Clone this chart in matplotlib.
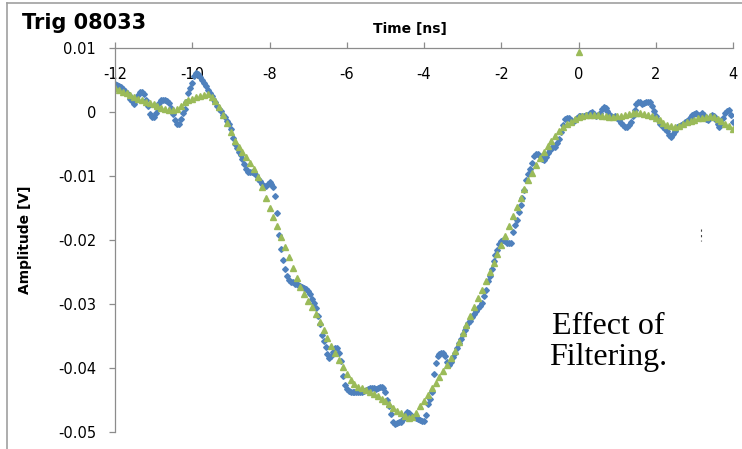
import numpy as np
import matplotlib
matplotlib.use("Agg")
import matplotlib.pyplot as plt
from matplotlib.lines import Line2D

plt.rcParams["axes.unicode_minus"] = False

# raw trace, one value every 0.05 ns from -12 to 4 ns (V)
raw_step = 0.05
raw_v = [
    0.0043, 0.0042, 0.0041, 0.0039, 0.0036, 0.0033, 0.0030, 0.0026, 0.0021, 0.0017,
    0.0013, 0.0018, 0.0027, 0.0032, 0.0032, 0.0028, 0.0019, 0.0009, -0.0003, -0.0008,
    -0.0008, -0.0002, 0.0006, 0.0014, 0.0018, 0.0019, 0.0019, 0.0017, 0.0014, 0.0006,
    -0.0003, -0.0013, -0.0019, -0.0019, -0.0011, -0.0002, 0.0005, 0.0016, 0.0030, 0.0038,
    0.0046, 0.0056, 0.0061, 0.0059, 0.0055, 0.0050, 0.0045, 0.0040, 0.0034, 0.0029,
    0.0025, 0.0020, 0.0015, 0.0010, 0.0005, 0.0001, -0.0004, -0.0008, -0.0014, -0.0019,
    -0.0027, -0.0040, -0.0050, -0.0057, -0.0062, -0.0067, -0.0073, -0.0082, -0.0089, -0.0093,
    -0.0093, -0.0094, -0.0096, -0.0099, -0.0104, -0.0108, -0.0112, -0.0115, -0.0116, -0.0113,
    -0.0110, -0.0112, -0.0117, -0.0131, -0.0158, -0.0192, -0.0214, -0.0232, -0.0245, -0.0256,
    -0.0263, -0.0265, -0.0266, -0.0268, -0.0269, -0.0271, -0.0272, -0.0273, -0.0275, -0.0276,
    -0.0279, -0.0285, -0.0292, -0.0299, -0.0306, -0.0318, -0.0331, -0.0348, -0.0358, -0.0367,
    -0.0378, -0.0384, -0.0382, -0.0375, -0.0368, -0.0368, -0.0376, -0.0389, -0.0412, -0.0426,
    -0.0433, -0.0436, -0.0437, -0.0437, -0.0438, -0.0437, -0.0437, -0.0437, -0.0437, -0.0436,
    -0.0435, -0.0433, -0.0432, -0.0431, -0.0432, -0.0433, -0.0432, -0.0430, -0.0429, -0.0432,
    -0.0438, -0.0450, -0.0460, -0.0472, -0.0484, -0.0487, -0.0486, -0.0485, -0.0484, -0.0480,
    -0.0474, -0.0469, -0.0470, -0.0473, -0.0475, -0.0477, -0.0478, -0.0480, -0.0481, -0.0483,
    -0.0483, -0.0473, -0.0457, -0.0449, -0.0437, -0.0410, -0.0392, -0.0381, -0.0378, -0.0377,
    -0.0377, -0.0382, -0.0390, -0.0395, -0.0390, -0.0383, -0.0376, -0.0368, -0.0361, -0.0354,
    -0.0347, -0.0341, -0.0336, -0.0330, -0.0326, -0.0320, -0.0316, -0.0311, -0.0307, -0.0303,
    -0.0298, -0.0287, -0.0278, -0.0264, -0.0256, -0.0246, -0.0233, -0.0224, -0.0216, -0.0206,
    -0.0201, -0.0200, -0.0202, -0.0204, -0.0205, -0.0205, -0.0188, -0.0176, -0.0168, -0.0156,
    -0.0145, -0.0135, -0.0122, -0.0106, -0.0097, -0.0089, -0.0079, -0.0069, -0.0065, -0.0065,
    -0.0069, -0.0073, -0.0075, -0.0070, -0.0064, -0.0060, -0.0057, -0.0055, -0.0054, -0.0049,
    -0.0042, -0.0031, -0.0020, -0.0011, -0.0009, -0.0009, -0.0012, -0.0015, -0.0013, -0.0010,
    -0.0007, -0.0007, -0.0006, -0.0006, -0.0005, -0.0004, -0.0002, 0.0000, -0.0003, -0.0006,
    -0.0005, -0.0002, 0.0005, 0.0008, 0.0006, 0.0002, -0.0003, -0.0007, -0.0008, -0.0007,
    -0.0009, -0.0013, -0.0017, -0.0021, -0.0024, -0.0024, -0.0021, -0.0015, -0.0007, 0.0003,
    0.0012, 0.0016, 0.0015, 0.0012, 0.0014, 0.0016, 0.0016, 0.0015, 0.0009, 0.0002,
    -0.0006, -0.0013, -0.0018, -0.0021, -0.0023, -0.0026, -0.0030, -0.0036, -0.0039, -0.0035,
    -0.0029, -0.0024, -0.0022, -0.0021, -0.0019, -0.0016, -0.0014, -0.0011, -0.0008, -0.0005,
    -0.0003, -0.0002, -0.0004, -0.0004, -0.0002, -0.0005, -0.0011, -0.0012, -0.0008, -0.0005,
    -0.0007, -0.0012, -0.0019, -0.0023, -0.0017, -0.0010, -0.0002, 0.0002, 0.0003, -0.0005,
    -0.0015,
]

# filtered trace, one value every 0.1 ns from -12 to 4 ns (V)
filt_step = 0.1
filt_v = [
    0.0038, 0.0035, 0.0032, 0.0029, 0.0026, 0.0023, 0.0021, 0.0018, 0.0016, 0.0014,
    0.0012, 0.0009, 0.0006, 0.0004, 0.0003, 0.0003, 0.0005, 0.0010, 0.0015, 0.0019,
    0.0021, 0.0023, 0.0025, 0.0027, 0.0028, 0.0024, 0.0017, 0.0008, -0.0004, -0.0017,
    -0.0032, -0.0045, -0.0054, -0.0062, -0.0071, -0.0080, -0.0089, -0.0102, -0.0117, -0.0134,
    -0.0150, -0.0164, -0.0178, -0.0195, -0.0211, -0.0227, -0.0243, -0.0259, -0.0273, -0.0285,
    -0.0296, -0.0305, -0.0315, -0.0328, -0.0341, -0.0353, -0.0365, -0.0376, -0.0387, -0.0398,
    -0.0409, -0.0419, -0.0425, -0.0429, -0.0432, -0.0435, -0.0438, -0.0441, -0.0444, -0.0448,
    -0.0452, -0.0457, -0.0462, -0.0467, -0.0471, -0.0475, -0.0478, -0.0477, -0.0470, -0.0460,
    -0.0451, -0.0442, -0.0432, -0.0423, -0.0414, -0.0405, -0.0395, -0.0385, -0.0373, -0.0360,
    -0.0346, -0.0333, -0.0319, -0.0305, -0.0291, -0.0278, -0.0264, -0.0250, -0.0236, -0.0222,
    -0.0208, -0.0193, -0.0178, -0.0163, -0.0148, -0.0134, -0.0120, -0.0107, -0.0095, -0.0083,
    -0.0072, -0.0062, -0.0053, -0.0045, -0.0037, -0.0030, -0.0024, -0.0019, -0.0015, -0.0011,
    -0.0008, -0.0006, -0.0005, -0.0004, -0.0004, -0.0005, -0.0006, -0.0007, -0.0008, -0.0008,
    -0.0007, -0.0006, -0.0005, -0.0003, -0.0002, -0.0002, -0.0002, -0.0003, -0.0004, -0.0006,
    -0.0009, -0.0013, -0.0017, -0.0020, -0.0022, -0.0023, -0.0022, -0.0019, -0.0016, -0.0014,
    -0.0012, -0.0010, -0.0009, -0.0008, -0.0007, -0.0008, -0.0011, -0.0014, -0.0018, -0.0022,
    -0.0027,
]

# trigger marker
trig_t = [0.0]
trig_v = [0.0093]

x_ticks = [-12, -10, -8, -6, -4, -2, 0, 2, 4]
y_ticks = [0.01, 0, -0.01, -0.02, -0.03, -0.04, -0.05]
y_labels = ["0.01", "0", "-0.01", "-0.02", "-0.03", "-0.04", "-0.05"]

raw_t = -12 + raw_step * np.arange(len(raw_v))
filt_t = -12 + filt_step * np.arange(len(filt_v))

W, H = 742, 449
fig = plt.figure(figsize=(W / 100, H / 100), dpi=100)
ax = fig.add_axes([115 / W, 1 - 432 / H, 618 / W, 384 / H])

ax.plot(raw_t, raw_v, ls="none", marker="D", ms=2.9, color="#4F81BD", mec="#4F81BD")
ax.plot(filt_t, filt_v, ls="none", marker="^", ms=4.2, color="#9BBB59", mec="#9BBB59")
ax.plot(trig_t, trig_v, ls="none", marker="^", ms=4.2, color="#9BBB59", clip_on=False)

ax.set_xlim(-12, 4)
ax.set_ylim(-0.05, 0.01)
ax.set_xticks(x_ticks)
ax.set_yticks(y_ticks)
ax.set_yticklabels(y_labels)

gray = "#8C8C8C"
for s in ["right", "bottom"]:
    ax.spines[s].set_visible(False)
for s in ["left", "top"]:
    ax.spines[s].set_color(gray)
    ax.spines[s].set_linewidth(0.9)

ax.tick_params(axis="x", bottom=False, labelbottom=False, top=True, labeltop=True,
               direction="out", length=4.5, width=0.9, color=gray, pad=-29)
ax.tick_params(axis="y", direction="out", length=4.5, width=0.9, color=gray, pad=9)
for lab in ax.get_xticklabels() + ax.get_yticklabels():
    lab.set_fontfamily("DejaVu Sans")
    lab.set_fontsize(10.5)

fig.text(22 / W, 1 - 29 / H, "Trig 08033", fontsize=15, fontweight="bold",
         family="DejaVu Sans", ha="left", va="baseline")
fig.text(410 / W, 1 - 29 / H, "Time [ns]", fontsize=10, fontweight="bold",
         family="DejaVu Sans", ha="center", va="center")
fig.text(25 / W, 1 - 240 / H, "Amplitude [V]", fontsize=10, fontweight="bold",
         family="DejaVu Sans", ha="center", va="center", rotation=90)
fig.text(608 / W, 1 - 342 / H, "Effect of\nFiltering.", fontsize=23,
         family="Liberation Serif", ha="center", va="center", linespacing=1.1)

# picture frame and small stray mark
fig.add_artist(Line2D([7 / W, 7 / W], [0, 1 - 3 / H], color="#A0A0A0", lw=1.2))
fig.add_artist(Line2D([7 / W, 1], [1 - 3 / H, 1 - 3 / H], color="#A0A0A0", lw=1.2))
fig.add_artist(Line2D([701 / W, 701 / W], [1 - 229 / H, 1 - 241 / H], color="#444444",
                      lw=0.8, ls=(0, (2, 3))))

fig.savefig("out.png", dpi=100)
